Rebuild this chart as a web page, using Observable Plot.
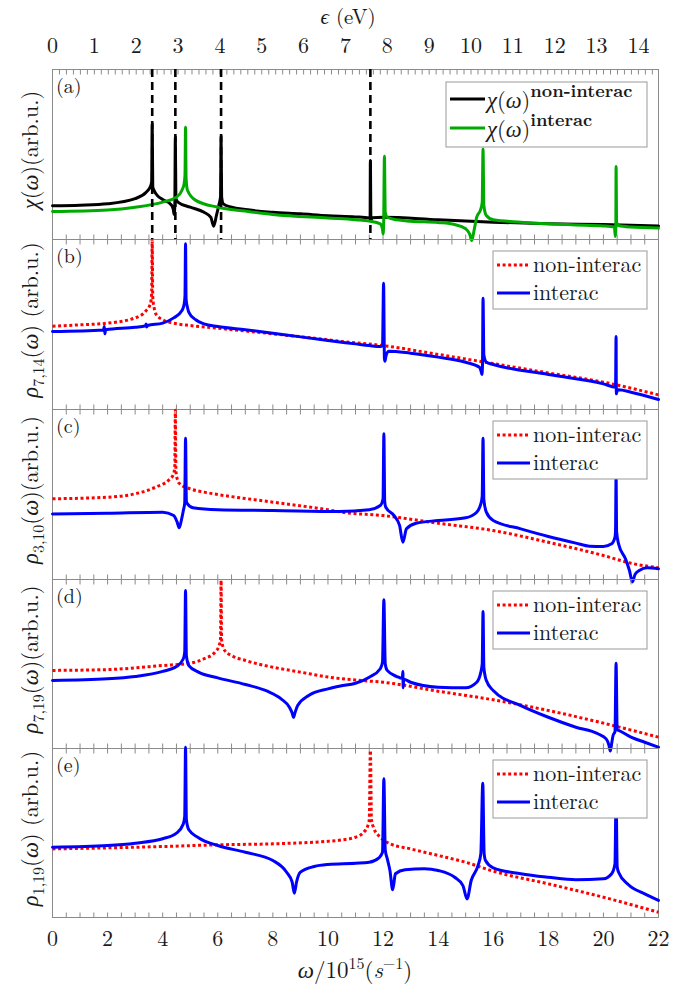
<!DOCTYPE html>
<html><head><meta charset="utf-8">
<script src="https://cdn.jsdelivr.net/npm/d3@7"></script>
<script src="https://cdn.jsdelivr.net/npm/@observablehq/plot@0.6"></script>
<style>
body{margin:0;background:#fff;}
#chart{width:695px;position:relative;}
#chart svg{display:block;}
</style></head><body><div id="chart"></div>
<script>
// ---------------- data (ω in 10^15 s^-1, response in arbitrary units 0–100 per panel) ----------------
const resonances = [3.62, 4.46, 6.12, 11.54];

const chiNonInterac = [[0,19.8],[1,20.2],[2,21],[3,24],[3.4,27.8],[3.55,31],[3.6,34],[3.62,68],[3.64,31],[3.7,28.5],[3.8,26],[4.0,23.5],[4.3,20.6],[4.38,18],[4.42,14.7],[4.44,20],[4.46,60.2],[4.48,24],[4.55,22],[5.0,19],[5.5,16],[5.75,13],[5.85,7.8],[5.95,14],[6.05,21],[6.1,25],[6.12,60.6],[6.14,25],[6.2,21],[6.5,19],[7,17.6],[8,16],[9,15.1],[10,14],[11,13.3],[11.5,12.6],[11.53,12],[11.54,46.5],[11.56,11],[11.6,12.8],[12,13.1],[14,11.6],[16,10.2],[18,9.2],[20,8.8],[22,8]];
const chiInterac = [[0,16.5],[2,17.4],[3,19],[4,22],[4.5,24.9],[4.7,29],[4.78,33],[4.81,38],[4.83,66],[4.85,36],[4.9,29],[5.2,23],[6,19],[7,16.7],[8,14.7],[10,12.6],[11,11.6],[11.5,10.8],[11.9,9.2],[11.98,6],[12.0,3.3],[12.02,8],[12.05,49],[12.08,16],[12.15,13.1],[12.5,11.6],[13,10.8],[14,10],[14.6,8.8],[15.0,6.3],[15.15,3],[15.22,-0.6],[15.3,5],[15.4,13.1],[15.55,18],[15.6,22],[15.63,53.3],[15.66,20],[15.75,14.1],[16,11.6],[17,10.2],[18,9.2],[19,8.6],[20,8],[20.4,7.3],[20.43,1.8],[20.45,5],[20.46,43],[20.48,10],[20.55,8.2],[21,7.3],[22,6.7]];

const rho714NonInterac = [[0,49],[1,49.8],[2,50.8],[3,53.9],[3.4,58.2],[3.55,62],[3.6,68],[3.62,99.5],[3.64,66],[3.7,59],[3.75,56.3],[4,52.8],[4.5,50.4],[5,49.4],[6,47.8],[8,44.5],[10,41],[10.5,40],[12,37.6],[14,32.4],[16,27],[18,21.5],[20,16.1],[22,8.6]];
const rho714Interac = [[0,45.9],[1.85,46.8],[1.88,48.8],[1.9,44.5],[1.93,46.9],[3,48.4],[3.38,49.3],[3.4,50.3],[3.42,48.5],[3.45,49.4],[4,50.8],[4.4,53.9],[4.7,58.2],[4.78,62],[4.81,67],[4.83,97.5],[4.85,65],[4.9,60],[4.95,57.2],[5.2,52.8],[5.5,50.4],[6,48.8],[7,46.9],[8,44.9],[10,40.6],[11,38.6],[11.5,37.6],[11.9,37],[11.98,37.6],[12.02,74.3],[12.05,30],[12.07,28.4],[12.1,31],[12.2,34.3],[13,33.1],[14,30.8],[15,27.8],[15.5,24.9],[15.56,22.5],[15.59,20.6],[15.61,26],[15.63,65.5],[15.66,32],[15.75,27.8],[16,26.5],[18,20.6],[20,15.1],[20.44,13.1],[20.46,42.9],[20.47,9.2],[20.5,11],[20.55,11.6],[21,10.2],[22,5.9]];

const rho310NonInterac = [[0,47.5],[2,48.4],[3,50.4],[3.8,54.7],[4.2,58.2],[4.38,61.5],[4.44,66],[4.46,99.5],[4.48,64],[4.55,58],[4.6,56.6],[5,53.3],[5.5,51.4],[6,50],[8,45.5],[10,41],[10.5,39.6],[12,37.6],[14,33.1],[16,28.8],[18,21.9],[20,14.1],[21,9.6],[22,6.9]];
const rho310Interac = [[0,38.6],[2,39],[4,39.6],[4.4,37.6],[4.52,34],[4.6,30.4],[4.68,35],[4.75,40.6],[4.8,45],[4.83,83.1],[4.86,46],[4.9,44.5],[5.1,42.2],[6,41],[8,40.6],[10.4,40],[11.5,41],[11.9,43.5],[12.0,47.5],[12.03,85.7],[12.06,46],[12.1,42.5],[12.4,37.6],[12.6,31.8],[12.72,21.9],[12.85,29.8],[13.2,33.1],[14,34.7],[15,36.3],[15.4,39.6],[15.55,44.5],[15.6,49],[15.63,83.1],[15.66,47],[15.75,39.6],[16,34.7],[17,29.8],[18,25.3],[19,21.4],[19.5,19.6],[20,19.4],[20.3,21],[20.42,24.9],[20.44,29],[20.46,60.8],[20.48,28],[20.55,21],[20.8,12.2],[20.95,5],[21.05,-1.5],[21.15,3],[21.3,5.3],[21.6,6.9],[22,6.3]];

const rho719NonInterac = [[0,46.2],[2,46.7],[4,49.1],[5,50.5],[5.5,53.1],[5.9,57],[6.05,60.9],[6.1,65],[6.12,99.5],[6.14,64],[6.25,58],[6.5,55],[7,52.1],[8,48.1],[9,45.2],[10,42.3],[11,40.5],[12,39.2],[14,33.9],[16,28.8],[18,22.5],[20,15],[22,6.7]];
const rho719Interac = [[0,40.2],[2,41.2],[3,42.6],[4,45.6],[4.5,48.5],[4.75,53.1],[4.8,57],[4.83,93.5],[4.86,55],[4.95,49.1],[5.3,45.2],[6,41.8],[7,37.9],[7.8,33.9],[8.3,29.4],[8.6,24.4],[8.7,21],[8.75,18.5],[8.8,21],[8.9,25.4],[9.3,31.4],[10,35.3],[10.45,37],[11,38.6],[11.5,42.2],[11.9,47.2],[11.98,51],[12.03,88],[12.08,50],[12.15,46.2],[12.5,42.6],[12.7,41.5],[12.72,45.6],[12.73,35.9],[12.75,41],[13,39.2],[14,36.3],[15,35.9],[15.4,39.2],[15.55,45.2],[15.6,50],[15.63,81.1],[15.66,48],[15.75,40.2],[16,34.3],[17,25.4],[18,18.5],[19,12.6],[19.8,8.7],[20.1,5.7],[20.2,2],[20.25,-1.5],[20.3,3],[20.35,7.7],[20.42,10],[20.46,50.5],[20.5,11],[20.55,10.7],[21,6.7],[21.5,3.7],[22,0.8]];

const rho119NonInterac = [[0,40.6],[2,41.2],[4,42],[6,43],[8,43.6],[10,45.1],[10.45,45.8],[11,47.5],[11.3,50.5],[11.45,54.4],[11.5,58],[11.54,98.8],[11.58,58],[11.65,53.4],[11.9,47.5],[12.2,44],[13,40.6],[14,36.7],[15,32.7],[16,27.4],[18,19.9],[20,12],[22,3.1]];
const rho119Interac = [[0,41.6],[2,42.6],[3,44],[4,46.6],[4.5,49.9],[4.75,55.4],[4.8,60],[4.83,100.8],[4.86,58],[4.95,51.9],[5.3,47.2],[6,42.6],[7,38.6],[8,33.7],[8.5,26.8],[8.7,21],[8.78,14.4],[8.86,21],[9,26.8],[9.5,30.2],[10,31.4],[11,32.1],[11.5,32.7],[11.85,35.3],[11.98,38.6],[12.03,82.1],[12.08,40],[12.15,35],[12.25,27.8],[12.35,16.4],[12.45,25.9],[12.8,28.2],[13.5,28.8],[14,27.8],[14.6,23.8],[14.9,18.9],[15.05,11],[15.2,21.9],[15.45,30.8],[15.55,37.7],[15.62,79.5],[15.67,38],[15.72,33.7],[16,29.4],[17,25.9],[18,23.8],[19,22.3],[20,22.9],[20.3,25.9],[20.42,31.8],[20.46,72.2],[20.5,30],[20.55,26.8],[20.9,19.5],[21.5,14],[22,10.1]];

// axis ticks
const omegaTicks = d3.range(0, 22.001, 0.5);
const omegaLabels = d3.range(0, 22.001, 2);
const evMinorTicks = d3.range(0, 14.45, 1/6);
const evLabels = d3.range(0, 14.001, 1);
const OMEGA_PER_EV = 1.5193; // 1 eV / ħ in 10^15 s^-1

// ---------------- layout / style ----------------
const FONT = "'Latin Modern Roman', 'Liberation Serif', serif";
const GREEK = "'Liberation Serif', serif";
const AXIS = "#8a8a8a";
const INK = "#1a1a1a";
const RED = "#ff0000", BLUE = "#0000ff", BLACK = "#000000", GREEN = "#00aa00";
const W = 695, ML = 52, MR = 37;

const panels = [
  {letter:"(a)", height:239, mt:69, mb:0, top:"ev", bottomLabels:false,
   series:[{data:chiNonInterac, stroke:BLACK},{data:chiInterac, stroke:GREEN}],
   ylabel:[{t:"χ",g:1},{t:"("},{t:"ω",g:1},{t:")(arb.u.)"}], legend:"chi"},
  {letter:"(b)", height:170, mt:0, mb:0, top:"omega", bottomLabels:false,
   series:[{data:rho714NonInterac, stroke:RED, dotted:true},{data:rho714Interac, stroke:BLUE}],
   ylabel:[{t:"ρ",g:1},{t:"7,14",sub:1},{t:"("},{t:"ω",g:1},{t:") (arb.u.)"}], legend:"rho"},
  {letter:"(c)", height:170, mt:0, mb:0, top:"omega", bottomLabels:false,
   series:[{data:rho310NonInterac, stroke:RED, dotted:true},{data:rho310Interac, stroke:BLUE}],
   ylabel:[{t:"ρ",g:1},{t:"3,10",sub:1},{t:"("},{t:"ω",g:1},{t:")(arb.u.)"}], legend:"rho"},
  {letter:"(d)", height:169, mt:0, mb:0, top:"omega", bottomLabels:false,
   series:[{data:rho719NonInterac, stroke:RED, dotted:true},{data:rho719Interac, stroke:BLUE}],
   ylabel:[{t:"ρ",g:1},{t:"7,19",sub:1},{t:"("},{t:"ω",g:1},{t:")(arb.u.)"}], legend:"rho"},
  {letter:"(e)", height:242, mt:0, mb:73, top:"omega", bottomLabels:true,
   series:[{data:rho119NonInterac, stroke:RED, dotted:true},{data:rho119Interac, stroke:BLUE}],
   ylabel:[{t:"ρ",g:1},{t:"1,19",sub:1},{t:"("},{t:"ω",g:1},{t:") (arb.u.)"}], legend:"rho"}
];

function rich(textSel, parts, size) {
  const subSize = Math.round(size * 0.7);
  let shifted = 0;
  for (const p of parts) {
    const ts = textSel.append("tspan").text(p.t);
    if (p.i || p.g) ts.style("font-style", "italic");
    if (p.g) ts.style("font-family", GREEK);
    if (p.b) ts.style("font-weight", "bold");
    let target = 0;
    if (p.sub) { ts.style("font-size", subSize + "px"); target = size * 0.28; }
    else if (p.sup) { ts.style("font-size", (p.size || subSize) + "px"); target = -size * (p.raise || 0.42); }
    else if (p.size) ts.style("font-size", p.size + "px");
    if (target !== shifted) { ts.attr("dy", target - shifted); shifted = target; }
  }
}
function txt(sel, x, y, size, anchor) {
  return sel.append("text").attr("x", x).attr("y", y)
    .style("font-family", FONT).style("font-size", size + "px").style("fill", INK)
    .attr("text-anchor", anchor || "start");
}

const chart = d3.select("#chart");
for (const P of panels) {
  const marks = [Plot.frame({stroke: AXIS, strokeWidth: 1})];
  marks.push(Plot.axisX(omegaTicks, {anchor: "bottom", tickSize: -4.5, tickFormat: () => "", stroke: AXIS, label: null}));
  if (P.bottomLabels) {
    marks.push(Plot.axisX(omegaLabels, {anchor: "bottom", tickSize: 0, tickPadding: 13, fontSize: 22, fill: INK, label: null}));
  }
  if (P.top === "ev") {
    marks.push(Plot.axisX(evMinorTicks.map(e => e * OMEGA_PER_EV), {anchor: "top", tickSize: -4.5, tickFormat: () => "", stroke: AXIS, label: null}));
    marks.push(Plot.axisX(evLabels.map(e => e * OMEGA_PER_EV), {anchor: "top", tickSize: 0, tickPadding: 17, fontSize: 22, fill: INK, label: null, tickFormat: d => Math.round(d / OMEGA_PER_EV)}));
  } else {
    marks.push(Plot.axisX(omegaTicks, {anchor: "top", tickSize: -4.5, tickFormat: () => "", stroke: AXIS, label: null}));
  }
  for (const s of P.series) {
    marks.push(Plot.line(s.data, {
      x: d => d[0], y: d => d[1], stroke: s.stroke, strokeWidth: 3, curve: "monotone-x",
      strokeDasharray: s.dotted ? "3,2.6" : null,
      strokeLinecap: s.dotted ? "butt" : "round", strokeLinejoin: "round"
    }));
  }
  if (P.top === "ev") {
    marks.push(Plot.ruleX(resonances, {stroke: BLACK, strokeWidth: 2.6, strokeDasharray: "8,5"}));
  }
  const svg = Plot.plot({
    width: W, height: P.height, marginLeft: ML, marginRight: MR, marginTop: P.mt, marginBottom: P.mb,
    x: {domain: [0, 22], label: null},
    y: {domain: [0, 100], axis: null},
    style: {background: "transparent", overflow: "visible"},
    marks
  });
  chart.node().appendChild(svg);
  const s = d3.select(svg);
  s.style("font-family", FONT);
  s.selectAll("text").style("font-family", FONT);
  const top = P.mt, bottom = P.height - P.mb, mid = (top + bottom) / 2;

  txt(s, 56, top + 24, 20).text(P.letter);

  const yl = s.append("text").attr("transform", `translate(38,${mid - 4}) rotate(-90)`)
    .attr("text-anchor", "middle").style("font-family", FONT).style("font-size", "22.5px").style("fill", INK);
  rich(yl, P.ylabel, 22.5);

  const g = s.append("g");
  if (P.legend === "chi") {
    g.append("rect").attr("x", 446).attr("y", top + 13).attr("width", 201).attr("height", 65).attr("fill", "#fff").attr("stroke", "#999");
    const rows = [{c: BLACK, sup: "non-interac", y: top + 30}, {c: GREEN, sup: "interac", y: top + 59}];
    for (const r of rows) {
      g.append("line").attr("x1", 450).attr("x2", 485).attr("y1", r.y).attr("y2", r.y).attr("stroke", r.c).attr("stroke-width", 3);
      const t = txt(g, 487, r.y + 9, 22.5);
      rich(t, [{t:"χ",g:1},{t:"("},{t:"ω",g:1},{t:")"},{t:r.sup, sup:1, b:1, size:18, raise:0.5}], 22.5);
    }
  } else {
    g.append("rect").attr("x", 493).attr("y", top + 12).attr("width", 154).attr("height", 58).attr("fill", "#fff").attr("stroke", "#999");
    const rows = [{c: RED, dotted: true, label: "non-interac", y: top + 26}, {c: BLUE, label: "interac", y: top + 54}];
    for (const r of rows) {
      g.append("line").attr("x1", 497).attr("x2", 530).attr("y1", r.y).attr("y2", r.y).attr("stroke", r.c).attr("stroke-width", 3)
        .attr("stroke-dasharray", r.dotted ? "3,2.6" : null);
      txt(g, 533, r.y + 7, 22).text(r.label);
    }
  }

  if (P.top === "ev") {
    const t = txt(s, 348, 24, 21, "middle");
    rich(t, [{t:"ϵ",g:1},{t:" (eV)"}], 21);
  }
  if (P.bottomLabels) {
    const t = txt(s, 355, bottom + 61, 23, "middle");
    rich(t, [{t:"ω",g:1},{t:"/10"},{t:"15",sup:1,size:16,raise:0.4},{t:"("},{t:"s",i:1},{t:"−1",sup:1,size:16,raise:0.4},{t:")"}], 23);
  }
}
</script></body></html>
